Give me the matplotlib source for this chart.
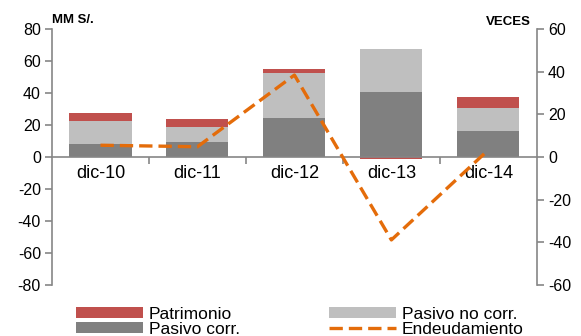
import numpy as np
import matplotlib.pyplot as plt

plt.rcParams['font.family'] = ['Liberation Sans', 'DejaVu Sans']
plt.rcParams['axes.unicode_minus'] = False

# Datos (MM S/. y veces)
periodos = ['dic-10', 'dic-11', 'dic-12', 'dic-13', 'dic-14']
pasivo_corr = [8.1, 9.6, 24.6, 40.6, 16.3]
pasivo_no_corr = [14.4, 9.4, 28.1, 27.1, 14.6]
patrimonio = [4.7, 4.7, 2.3, -1.5, 6.7]
endeudamiento = [5.5, 4.8, 38.4, -38.9, 3.3]

c_rojo = '#C0504D'
c_claro = '#BFBFBF'
c_oscuro = '#808080'
c_naranja = '#E46C0A'
c_eje = '#868686'

x = np.arange(len(periodos))
pc = np.array(pasivo_corr)
pnc = np.array(pasivo_no_corr)
pat = np.array(patrimonio)

fig = plt.figure(figsize=(5.81, 3.36), dpi=100)
ax = fig.add_axes([0.0895, 0.152, 0.8345, 0.7617])
ax2 = ax.twinx()

ancho = 0.64
b1 = ax.bar(x, pc, ancho, color=c_oscuro, label='Pasivo corr.', zorder=2)
b2 = ax.bar(x, pnc, ancho, bottom=pc, color=c_claro, label='Pasivo no corr.', zorder=2)
# patrimonio negativo se dibuja bajo el cero
base_pat = np.where(pat >= 0, pc + pnc, 0)
b3 = ax.bar(x, pat, ancho, bottom=base_pat, color=c_rojo, label='Patrimonio', zorder=2)

l1, = ax2.plot(x, endeudamiento, color=c_naranja, lw=2.4, ls=(0, (4, 1.8)),
               label='Endeudamiento', zorder=3)

ax.set_xlim(-0.5, 4.5)
ax.set_ylim(-80, 80)
ax.set_yticks(np.arange(-80, 81, 20))
ax2.set_ylim(-60, 60)
ax2.set_yticks(np.arange(-60, 61, 20))

# ejes
for a in (ax, ax2):
    a.spines['top'].set_visible(False)
ax.spines['right'].set_visible(False)
ax2.spines['left'].set_visible(False)
ax2.spines['bottom'].set_visible(False)
ax.spines['bottom'].set_position(('data', 0))
for s in ('left', 'bottom'):
    ax.spines[s].set_color(c_eje)
    ax.spines[s].set_linewidth(1.2)
ax2.spines['right'].set_color(c_eje)
ax2.spines['right'].set_linewidth(1.2)

ax.set_xticks(x)
ax.set_xticklabels(periodos)
ax.set_xticks(np.arange(0.5, 4.5, 1), minor=True)
ax.tick_params(axis='x', which='major', length=0, pad=5.5, labelsize=13)
ax.tick_params(axis='x', which='minor', length=5, width=1.2, color=c_eje)
ax.tick_params(axis='y', length=5, width=1.2, color=c_eje, labelsize=11.5, pad=3)
ax2.tick_params(axis='y', length=5, width=1.2, color=c_eje, labelsize=11.5, pad=3)

fig.text(0.0895, 0.94, 'MM S/.', fontsize=9.5, fontweight='bold', ha='left', va='center')
fig.text(0.913, 0.936, 'VECES', fontsize=9.5, fontweight='bold', ha='right', va='center')

fig.legend(handles=[b3, b1, b2, l1], ncol=2, frameon=False,
           loc='upper left', bbox_to_anchor=(0.131, 0.087),
           fontsize=12.5, handlelength=3.85, handleheight=0.65,
           handletextpad=0.35, labelspacing=0.0, columnspacing=5.1,
           borderpad=0, borderaxespad=0)

fig.savefig('out.png', dpi=100)
